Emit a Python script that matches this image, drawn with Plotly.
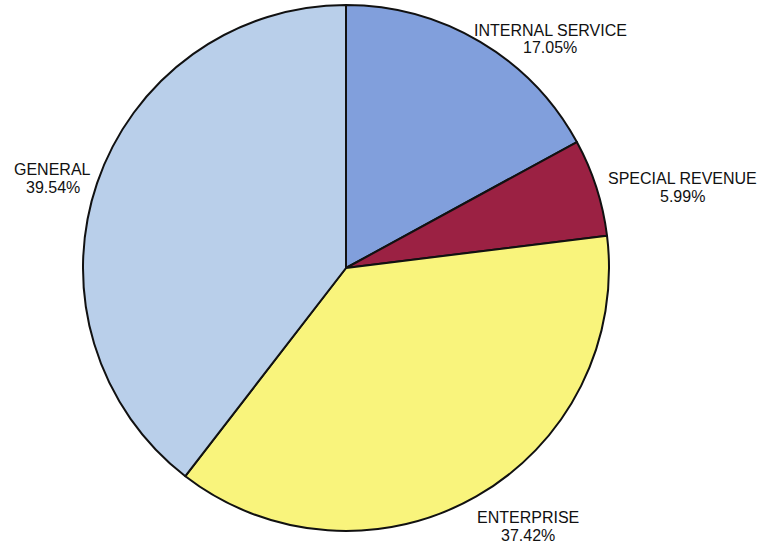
import plotly.graph_objects as go

# Fund share of total, clockwise from 12 o'clock
funds = ["INTERNAL SERVICE", "SPECIAL REVENUE", "ENTERPRISE", "GENERAL"]
shares = [17.05, 5.99, 37.42, 39.54]
colors = ["#819fdc", "#9b2143", "#f9f47c", "#b9cfea"]

# Caption centres in pixels (x, first-line y) for each fund
label_px = [(550, 30), (682, 178), (528, 517), (53, 170)]
line_gap = 18

W, H = 776, 547
cx, cy, r = 346, 268, 263

fig = go.Figure(
    go.Pie(
        labels=funds,
        values=shares,
        sort=False,
        direction="clockwise",
        rotation=0,
        marker=dict(colors=colors, line=dict(color="#111111", width=2)),
        textinfo="none",
        hoverinfo="label+percent",
        showlegend=False,
        domain=dict(
            x=[(cx - r) / W, (cx + r) / W],
            y=[1 - (cy + r) / H, 1 - (cy - r) / H],
        ),
    )
)

font = dict(family="Liberation Sans, Arial, sans-serif", size=16, color="#111111")
for name, val, (px, py) in zip(funds, shares, label_px):
    for i, txt in enumerate([name, f"{val:.2f}%"]):
        fig.add_annotation(
            x=px / W, y=1 - (py + i * line_gap) / H,
            xref="paper", yref="paper",
            text=txt, showarrow=False,
            xanchor="center", yanchor="middle",
            font=font,
        )

fig.update_layout(
    width=W, height=H,
    margin=dict(l=0, r=0, t=0, b=0),
    paper_bgcolor="white",
    plot_bgcolor="white",
)

fig.write_html("out.html")
